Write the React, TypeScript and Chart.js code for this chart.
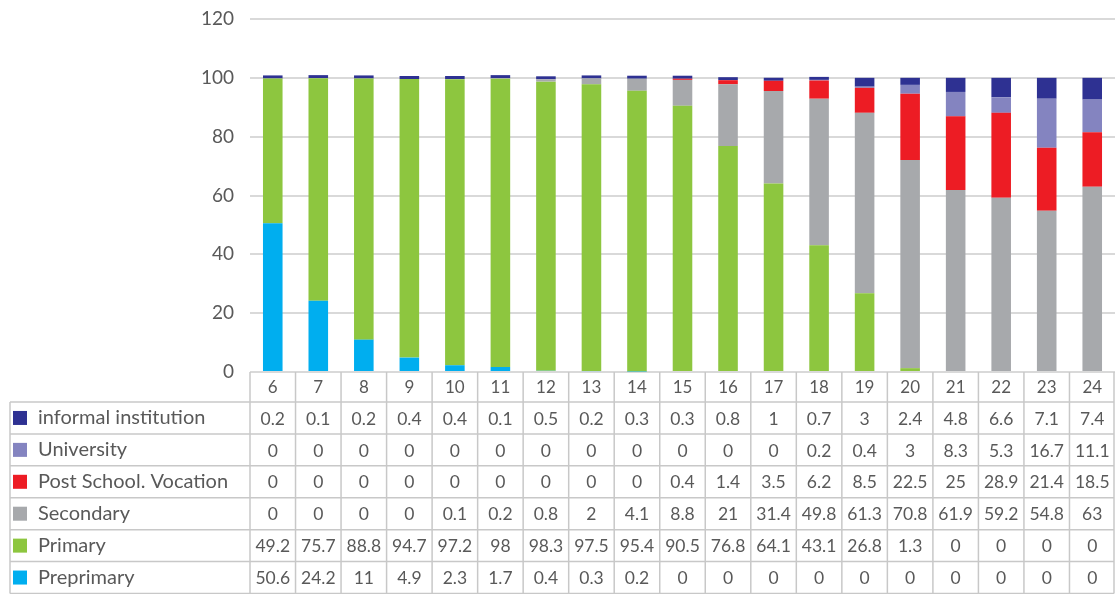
import React, { useEffect, useRef } from "react";
import { Chart, registerables } from "chart.js";

Chart.register(...registerables);

const ages = ["6", "7", "8", "9", "10", "11", "12", "13", "14", "15", "16", "17", "18", "19", "20", "21", "22", "23", "24"];

const preprimary = [50.6, 24.2, 11, 4.9, 2.3, 1.7, 0.4, 0.3, 0.2, 0, 0, 0, 0, 0, 0, 0, 0, 0, 0];
const primary = [49.2, 75.7, 88.8, 94.7, 97.2, 98, 98.3, 97.5, 95.4, 90.5, 76.8, 64.1, 43.1, 26.8, 1.3, 0, 0, 0, 0];
const secondary = [0, 0, 0, 0, 0.1, 0.2, 0.8, 2, 4.1, 8.8, 21, 31.4, 49.8, 61.3, 70.8, 61.9, 59.2, 54.8, 63];
const postSchool = [0, 0, 0, 0, 0, 0, 0, 0, 0, 0.4, 1.4, 3.5, 6.2, 8.5, 22.5, 25, 28.9, 21.4, 18.5];
const university = [0, 0, 0, 0, 0, 0, 0, 0, 0, 0, 0, 0, 0.2, 0.4, 3, 8.3, 5.3, 16.7, 11.1];
const informal = [0.2, 0.1, 0.2, 0.4, 0.4, 0.1, 0.5, 0.2, 0.3, 0.3, 0.8, 1, 0.7, 3, 2.4, 4.8, 6.6, 7.1, 7.4];

const seriesNames = ["Preprimary", "Primary", "Secondary", "Post School. Vocation", "University", "informal institution"];
const seriesValues = [preprimary, primary, secondary, postSchool, university, informal];
const seriesColors = ["#00aeef", "#8dc63f", "#a7a9ac", "#ed1c24", "#8484c0", "#2e3192"];

const yMin = 0;
const yMax = 120;
const yStep = 20;

const FONT = "Lato, 'Open Sans', sans-serif";
const TEXT = "#595959";
const LINE = "#c8c8c8";

const tablePlugin = {
  id: "dataTable",
  afterDraw(chart: any) {
    const ctx = chart.ctx as CanvasRenderingContext2D;
    const xs = chart.scales.x;
    const area = chart.chartArea;
    const n = ages.length;
    const colW = xs.getPixelForValue(1) - xs.getPixelForValue(0);
    const headerTop = area.bottom;
    const headerH = 30;
    const tableBottom = chart.height - 0.5;
    const rowsTop = headerTop + headerH;
    const rowCount = seriesNames.length;
    const rowH = (tableBottom - rowsTop) / rowCount;
    const tableLeft = 10;
    const right = chart.width - 1;

    ctx.save();
    ctx.strokeStyle = LINE;
    ctx.lineWidth = 1.5;

    for (let i = 0; i <= n; i++) {
      const x = i < n ? xs.getPixelForValue(i) - colW / 2 : Math.min(right, xs.getPixelForValue(n - 1) + colW / 2);
      ctx.beginPath();
      ctx.moveTo(x, headerTop);
      ctx.lineTo(x, tableBottom);
      ctx.stroke();
    }
    ctx.beginPath();
    ctx.moveTo(tableLeft, rowsTop);
    ctx.lineTo(tableLeft, tableBottom);
    ctx.stroke();
    for (let r = 0; r <= rowCount; r++) {
      const y = rowsTop + r * rowH;
      ctx.beginPath();
      ctx.moveTo(tableLeft, y);
      ctx.lineTo(right, y);
      ctx.stroke();
    }

    ctx.fillStyle = TEXT;
    ctx.textAlign = "center";
    ctx.textBaseline = "middle";
    ctx.font = `17px ${FONT}`;
    for (let i = 0; i < n; i++) {
      ctx.fillText(ages[i], xs.getPixelForValue(i), headerTop + headerH / 2 + 1);
    }

    for (let r = 0; r < rowCount; r++) {
      const s = rowCount - 1 - r;
      const cy = rowsTop + r * rowH + rowH / 2;
      ctx.fillStyle = seriesColors[s];
      ctx.fillRect(13, cy - 7, 14, 14);
      ctx.fillStyle = TEXT;
      ctx.textAlign = "left";
      ctx.font = `20px ${FONT}`;
      ctx.fillText(seriesNames[s], 38, cy);
      ctx.textAlign = "center";
      ctx.font = `17.5px ${FONT}`;
      const vals = seriesValues[s];
      for (let i = 0; i < n; i++) {
        ctx.fillText(String(vals[i]), xs.getPixelForValue(i), cy + 1);
      }
    }
    ctx.restore();
  },
};

export default function App() {
  const ref = useRef<HTMLCanvasElement | null>(null);

  useEffect(() => {
    document.body.style.margin = "0";
    if (!ref.current) return;
    const chart = new Chart(ref.current, {
      type: "bar",
      data: {
        labels: ages,
        datasets: seriesNames.map((name, i) => ({
          label: name,
          data: seriesValues[i],
          backgroundColor: seriesColors[i],
          borderWidth: 0,
          categoryPercentage: 1,
          barPercentage: 0.43,
          minBarLength: i === seriesNames.length - 1 ? 3 : undefined,
        })),
      },
      options: {
        animation: false,
        responsive: true,
        maintainAspectRatio: false,
        layout: { padding: { top: 19, bottom: 222, left: 0, right: 0 } },
        plugins: {
          legend: { display: false },
          tooltip: { enabled: false },
        },
        scales: {
          x: {
            stacked: true,
            display: false,
          },
          y: {
            stacked: true,
            min: yMin,
            max: yMax,
            ticks: {
              stepSize: yStep,
              padding: 16,
              color: TEXT,
              font: { family: FONT, size: 19 },
            },
            grid: { color: "#d9d9d9", lineWidth: 2, drawTicks: false },
            border: { display: false },
            afterFit: (s: any) => {
              s.width = 250;
              s.paddingTop = 0;
              s.paddingBottom = 0;
            },
          },
        },
      },
      plugins: [tablePlugin],
    });
    return () => chart.destroy();
  }, []);

  return (
    <div style={{ width: 1115, height: 594, position: "relative" }}>
      <canvas ref={ref} />
    </div>
  );
}
